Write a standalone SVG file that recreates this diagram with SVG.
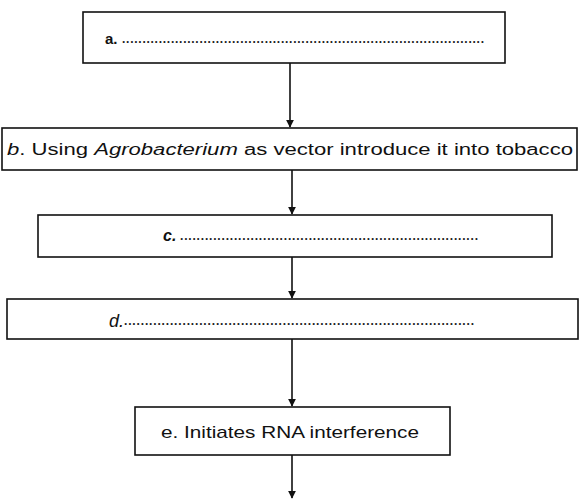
<svg xmlns="http://www.w3.org/2000/svg" width="579" height="503" viewBox="0 0 579 503">
<style>
.box{fill:#fff;stroke:#111;stroke-width:1.6}
.t{font-family:"Liberation Sans",Arial,sans-serif;fill:#111}
.dots{font-family:"Liberation Sans",Arial,sans-serif;fill:#222;font-size:12px;font-weight:bold}
.c{stroke:#111;stroke-width:1.6;fill:none}
</style>
<defs>
<marker id="ah" viewBox="0 0 10 10" refX="9" refY="5" markerWidth="5" markerHeight="5" orient="auto" markerUnits="strokeWidth">
<path d="M0,0 L10,5 L0,10 z" fill="#111"/>
</marker>
</defs>
<rect width="579" height="503" fill="#fff"/>
<g id="connectors">
<line class="c" x1="290" y1="63" x2="290" y2="127" marker-end="url(#ah)"/>
<line class="c" x1="292" y1="170" x2="292" y2="214" marker-end="url(#ah)"/>
<line class="c" x1="292" y1="257" x2="292" y2="298" marker-end="url(#ah)"/>
<line class="c" x1="292" y1="339" x2="292" y2="406" marker-end="url(#ah)"/>
<line class="c" x1="292" y1="455" x2="292" y2="498" marker-end="url(#ah)"/>
</g>
<g id="node-a">
<rect class="box" x="83" y="12" width="422" height="51"/>
<text class="t" x="105" y="44" font-size="15" font-weight="bold">a.</text>
<text class="dots" x="122" y="43" textLength="362" lengthAdjust="spacing">.........................................................................................</text>
</g>
<g id="node-b">
<rect class="box" x="2" y="128" width="575" height="42"/>
<text class="t" x="7" y="155" font-size="16" textLength="566" lengthAdjust="spacingAndGlyphs"><tspan font-style="italic">b</tspan>. Using <tspan font-style="italic">Agrobacterium</tspan> as vector introduce it into tobacco</text>
</g>
<g id="node-c">
<rect class="box" x="38" y="215" width="514" height="42"/>
<text class="t" x="163" y="241" font-size="16" font-weight="bold" font-style="italic">c.</text>
<text class="dots" x="180" y="240" textLength="298" lengthAdjust="spacing">........................................................................</text>
</g>
<g id="node-d">
<rect class="box" x="7" y="299" width="571" height="40"/>
<text class="t" x="109" y="327" font-size="18" font-family="Liberation Serif" font-style="italic">d.</text>
<text class="dots" x="124" y="325" textLength="350" lengthAdjust="spacing">....................................................................................</text>
</g>
<g id="node-e">
<rect class="box" x="135" y="407" width="315" height="48"/>
<text class="t" x="161" y="438" font-size="17" textLength="258" lengthAdjust="spacingAndGlyphs">e. Initiates RNA interference</text>
</g>
</svg>
